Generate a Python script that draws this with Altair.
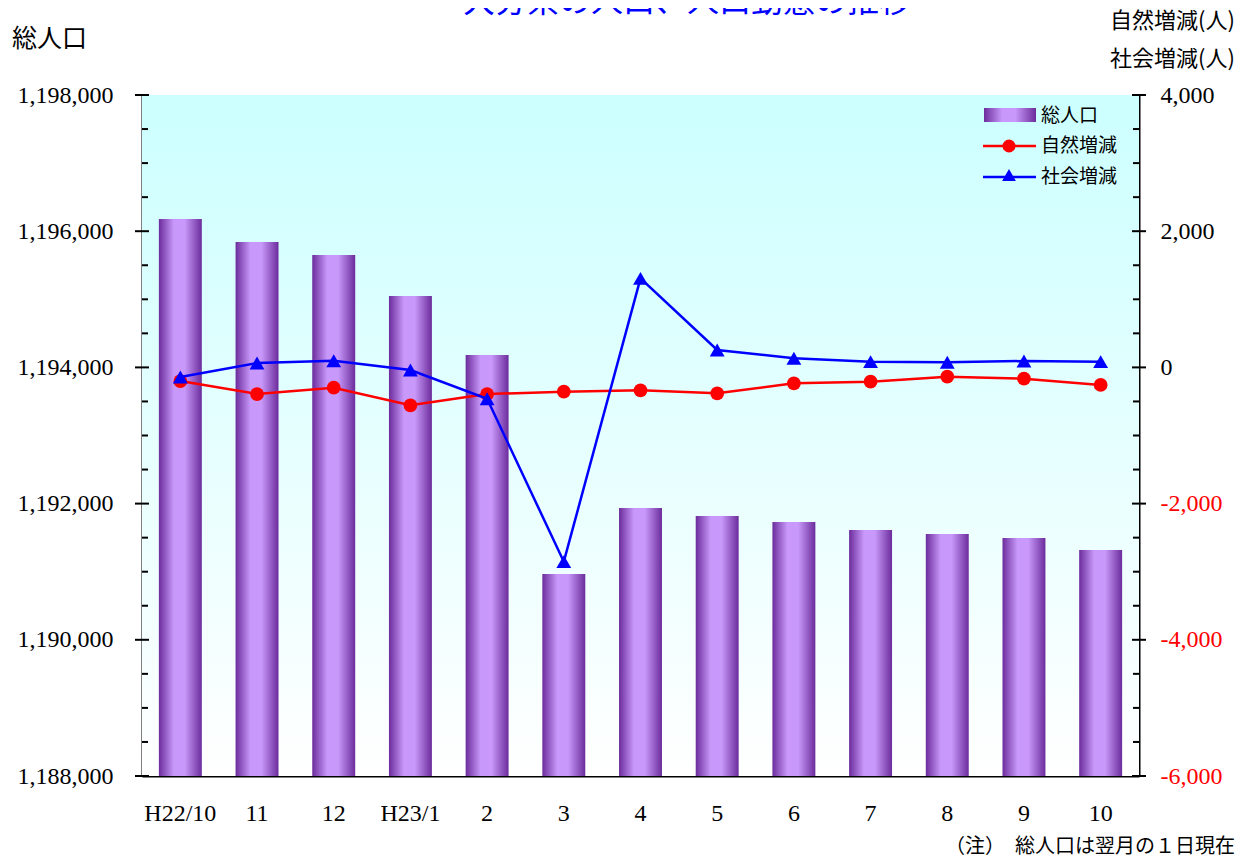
import altair as alt
import pandas as pd

# ---------------- data ----------------
categories = ["H22/10", "11", "12", "H23/1", "2", "3", "4", "5", "6", "7", "8", "9", "10"]
total_pop = [1196179, 1195841, 1195650, 1195048, 1194182, 1190966, 1191935,
             1191818, 1191730, 1191612, 1191554, 1191495, 1191319]
natural_change = [-200, -391, -298, -557, -391, -357, -336, -380, -233, -210, -137, -166, -258]
social_change = [-141, 65, 98, -38, -460, -2853, 1308, 256, 134, 84, 75, 94, 84]

left_domain = [1188000, 1198000]
right_domain = [-6000, 4000]
left_major = [1188000, 1190000, 1192000, 1194000, 1196000, 1198000]
left_minor = [1188500, 1189000, 1189500, 1190500, 1191000, 1191500, 1192500, 1193000,
              1193500, 1194500, 1195000, 1195500, 1196500, 1197000, 1197500]
right_major = [-6000, -4000, -2000, 0, 2000, 4000]
right_minor = [-5500, -5000, -4500, -3500, -3000, -2500, -1500, -1000, -500,
               500, 1000, 1500, 2500, 3000, 3500]

title_text = "大分県の人口、人口動態の推移"
left_title = "総人口"
right_title1 = "自然増減(人)"
right_title2 = "社会増減(人)"
note_text = "（注）　総人口は翌月の１日現在"
legend_names = ["総人口", "自然増減", "社会増減"]

df = pd.DataFrame({
    "cat": categories,
    "pop": total_pop,
    "nat": natural_change,
    "soc": social_change,
})
df["base"] = left_domain[0]

W, H = 997, 681
JP = "Noto Sans CJK JP"
SERIF = "Liberation Serif"
NUM_EXPR = "(datum.value < 0 ? '-' : '') + format(abs(datum.value), ',.0f')"

bar_grad = alt.Gradient(
    gradient="linear", x1=0, x2=1, y1=0, y2=0,
    stops=[alt.GradientStop(color="#6c2c9c", offset=0),
           alt.GradientStop(color="#c899fa", offset=0.35),
           alt.GradientStop(color="#c899fa", offset=0.6),
           alt.GradientStop(color="#6c2c9c", offset=1)])
bg_grad = alt.Gradient(
    gradient="linear", x1=0, x2=0, y1=0, y2=1,
    stops=[alt.GradientStop(color="#ccffff", offset=0),
           alt.GradientStop(color="#ffffff", offset=1)])

X = alt.X("cat:N", sort=categories,
          scale=alt.Scale(paddingInner=0.44, paddingOuter=0.22),
          axis=alt.Axis(orient="bottom", labelAngle=0, ticks=False, tickSize=0,
                        labelPadding=25, labelFont=SERIF, labelFontSize=24,
                        labelColor="black", domainColor="black", domainWidth=2,
                        title=None, grid=False))

left_scale = alt.Scale(domain=left_domain, nice=False, zero=False)
right_scale = alt.Scale(domain=right_domain, nice=False, zero=False)

left_axis = alt.Axis(orient="left", values=left_major, labelExpr=NUM_EXPR, ticks=False, tickSize=0,
                     labelPadding=29, labelFont=SERIF, labelFontSize=24, labelColor="black",
                     domainColor="black", domainWidth=2, grid=False, title=None)
right_axis = alt.Axis(orient="right", values=right_major, labelExpr=NUM_EXPR, ticks=False, tickSize=0,
                      labelPadding=21, labelFont=SERIF, labelFontSize=24,
                      labelColor={"condition": {"test": "datum.value < 0", "value": "red"},
                                  "value": "black"},
                      domainColor="black", domainWidth=2, grid=False, title=None)

base = alt.Chart(df)

background = alt.Chart(pd.DataFrame({"a": [0]})).mark_rect(fill=bg_grad).encode(
    x=alt.value(0), x2=alt.value("width"), y=alt.value(0), y2=alt.value("height"))

bars = base.mark_bar(fill=bar_grad, clip=True).encode(
    x=X,
    y=alt.Y("pop:Q", scale=left_scale, axis=left_axis),
    y2="base:Q")

def tick_layer(vals, scale, x0, x1):
    return alt.Chart(pd.DataFrame({"v": vals})).mark_rule(color="black", strokeWidth=2).encode(
        y=alt.Y("v:Q", scale=scale, axis=None), x=alt.value(x0), x2=alt.value(x1))

lt_major = tick_layer(left_major, left_scale, -7, 7)
lt_minor = tick_layer(left_minor, left_scale, 0, 6)
rt_major = tick_layer(right_major, right_scale, W - 7, W + 7)
rt_minor = tick_layer(right_minor, right_scale, W - 6, W)

nat_line = base.mark_line(color="red", strokeWidth=2.5).encode(
    x=X, y=alt.Y("nat:Q", scale=right_scale, axis=right_axis))
nat_pts = base.mark_point(shape="circle", filled=True, color="red", size=190, opacity=1).encode(
    x=X, y=alt.Y("nat:Q", scale=right_scale, axis=None))
soc_line = base.mark_line(color="blue", strokeWidth=2.5).encode(
    x=X, y=alt.Y("soc:Q", scale=right_scale, axis=None))
soc_pts = base.mark_point(shape="triangle-up", filled=True, color="blue", size=220, opacity=1).encode(
    x=X, y=alt.Y("soc:Q", scale=right_scale, axis=None))

one = pd.DataFrame({"a": [0]})

def label(txt, x, y, size, color="black", align="left", baseline="middle"):
    return alt.Chart(one).mark_text(text=txt, font=JP, fontSize=size, color=color,
                                    align=align, baseline=baseline).encode(
        x=alt.value(x), y=alt.value(y))

texts = [
    label(title_text, 545, -83, 32, color="#0000ff", align="center", baseline="alphabetic"),
    label(left_title, -130, -56, 25),
    label(right_title1, 968, -74, 22),
    label(right_title2, 968, -36, 22),
    label(note_text, 1093, 752, 20, align="right"),
    label(legend_names[0], 899, 21, 19),
    label(legend_names[1], 899, 51, 19),
    label(legend_names[2], 899, 82, 19),
]

leg_swatch = alt.Chart(one).mark_rect(fill=bar_grad).encode(
    x=alt.value(842), x2=alt.value(894), y=alt.value(13), y2=alt.value(27))
leg_red = alt.Chart(one).mark_rule(color="red", strokeWidth=2.5).encode(
    x=alt.value(841), x2=alt.value(894), y=alt.value(51))
leg_red_pt = alt.Chart(one).mark_point(shape="circle", filled=True, color="red", size=170, opacity=1).encode(
    x=alt.value(867), y=alt.value(51))
leg_blue = alt.Chart(one).mark_rule(color="blue", strokeWidth=2.5).encode(
    x=alt.value(841), x2=alt.value(894), y=alt.value(82))
leg_blue_pt = alt.Chart(one).mark_point(shape="triangle-up", filled=True, color="blue", size=190, opacity=1).encode(
    x=alt.value(867), y=alt.value(80))

chart = alt.layer(
    background, bars, lt_major, lt_minor,
    nat_line, nat_pts, soc_line, soc_pts,
    rt_major, rt_minor,
    leg_swatch, leg_red, leg_red_pt, leg_blue, leg_blue_pt,
    *texts
).resolve_scale(y="independent").properties(
    width=W, height=H,
    autosize=alt.AutoSizeParams(type="none"),
    padding={"left": 134, "top": 87, "right": 98, "bottom": 82},
    background="white",
).configure_view(stroke=None)

chart.save("out.html", embed_options={"renderer": "svg", "actions": False})
